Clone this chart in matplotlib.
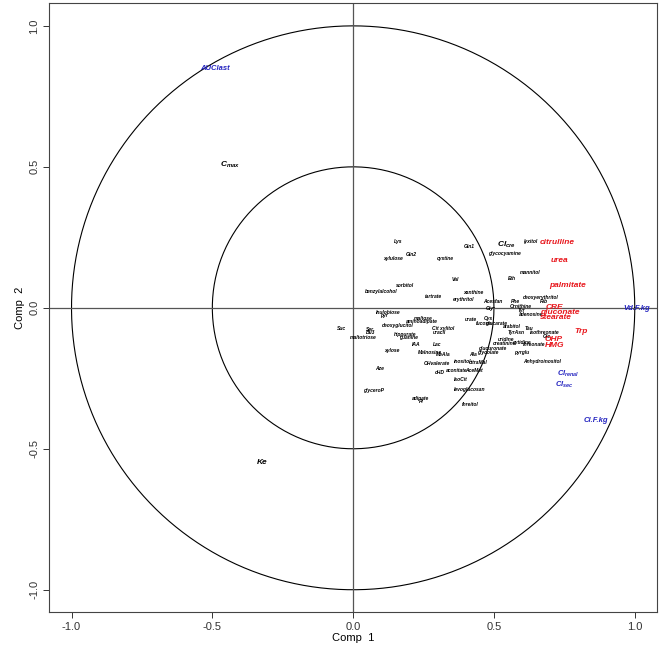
import matplotlib
matplotlib.use("Agg")
import matplotlib.pyplot as plt
import numpy as np

# correlation circle for PLS components 1 and 2

plt.rcParams['font.family'] = ['Liberation Sans', 'DejaVu Sans']
plt.rcParams['mathtext.fontset'] = 'custom'
plt.rcParams['mathtext.it'] = 'Liberation Sans:italic:bold'
plt.rcParams['mathtext.rm'] = 'Liberation Sans:bold'

# metabolites (small black labels)
metNames = ['Lys', 'xylulose', 'Gln2', 'cystine', 'Gln1', 'Val', 'sorbitol', 'benzylalcohol',
            'tartrate', 'xanthine', 'erythritol', 'Acesfan', 'Inulobiose', 'pyr', 'maltose',
            'aminoadipate', 'deoxyglucitol', 'Cit xylitol', 'uracil', 'urate', 'Cys', 'fucose',
            'glucarate', 'Suc', 'Ser', 'Bu3', 'maltotriose', 'hippurate', 'guanine', 'IAA', 'Lac',
            'xylose', 'MeInosine', 'MeAla', 'Ala', 'OHvalerate', 'inositol', 'citraMal', 'Aze',
            'cHD', 'aconitate', 'AceMet', 'IsoCit', 'levoglucosan', 'glyceroP', 'adipate', 'Pi',
            'threitol', 'glucuronate', 'glycolate', 'lyxitol', 'glycocyamine', 'mannitol', 'Eth',
            'deoxyerythritol', 'Rib', 'Phe', 'Ornithine', 'Gly', 'Tyr', 'adenosine', 'arabitol',
            'Tau', 'TyrAsn', 'isothreonate', 'Glc', 'uridine', 'cytidine', 'creatinine',
            'threonate', 'pyrglu', 'Anhydroinositol']
metX = [0.160, 0.142, 0.207, 0.327, 0.412, 0.363, 0.185, 0.098,
        0.286, 0.426, 0.393, 0.495, 0.124, 0.110, 0.248,
        0.245, 0.160, 0.319, 0.305, 0.417, 0.481, 0.464,
        0.509, -0.041, 0.059, 0.062, 0.036, 0.183, 0.195, 0.225, 0.298,
        0.136, 0.272, 0.320, 0.424, 0.298, 0.390, 0.444, 0.092,
        0.308, 0.367, 0.428, 0.381, 0.414, 0.073, 0.239, 0.243,
        0.417, 0.495, 0.479, 0.631, 0.536, 0.627, 0.565,
        0.665, 0.677, 0.575, 0.596, 0.485, 0.599, 0.633, 0.562,
        0.625, 0.580, 0.680, 0.686, 0.544, 0.600, 0.538,
        0.643, 0.598, 0.669]
metY = [0.236, 0.176, 0.190, 0.176, 0.218, 0.100, 0.080, 0.059,
        0.040, 0.056, 0.031, 0.024, -0.015, -0.027, -0.038,
        -0.050, -0.062, -0.072, -0.086, -0.042, -0.038, -0.054,
        -0.056, -0.075, -0.077, -0.088, -0.107, -0.095, -0.106, -0.130, -0.130,
        -0.153, -0.157, -0.166, -0.165, -0.198, -0.192, -0.195, -0.214,
        -0.228, -0.224, -0.222, -0.254, -0.290, -0.293, -0.322, -0.334,
        -0.342, -0.145, -0.157, 0.236, 0.191, 0.127, 0.104,
        0.037, 0.024, 0.021, 0.005, -0.004, -0.010, -0.023, -0.066,
        -0.074, -0.089, -0.089, -0.101, -0.113, -0.122, -0.127,
        -0.130, -0.159, -0.189]

# highlighted metabolites (red)
redNames = ['citrulline', 'urea', 'palmitate', 'CRE', 'gluconate', 'stearate', 'Trp', 'OHP', 'HMG']
redX = [0.724, 0.734, 0.763, 0.716, 0.734, 0.720, 0.811, 0.712, 0.716]
redY = [0.230, 0.167, 0.080, 0.001, -0.017, -0.036, -0.083, -0.113, -0.134]

# PK parameters (blue)
pkNames = ['AUClast', 'Vd.F.kg', r'$Cl_{renal}$', r'$Cl_{sec}$', 'Cl.F.kg']
pkX = [-0.491, 1.006, 0.763, 0.751, 0.862]
pkY = [0.849, -0.003, -0.236, -0.273, -0.401]

# other variables (black, larger)
othNames = [r'$C_{max}$', 'Ke', r'$Cl_{cre}$']
othX = [-0.438, -0.324, 0.545]
othY = [0.506, -0.550, 0.222]

ticks = [-1.0, -0.5, 0.0, 0.5, 1.0]

fig = plt.figure(figsize=(6.61, 6.50), dpi=100)
ax = fig.add_axes([0.0741, 0.058, 0.9203, 0.9369])

t = np.linspace(0, 2 * np.pi, 400)
ax.plot(np.cos(t), np.sin(t), color='black', lw=0.8)
ax.plot(0.5 * np.cos(t), 0.5 * np.sin(t), color='black', lw=0.8)
ax.axhline(0, color='#555555', lw=0.9)
ax.axvline(0, color='#555555', lw=0.9)

for n, x, y in zip(metNames, metX, metY):
    ax.text(x, y, n, fontsize=3.6, style='italic', weight='bold', ha='center', va='center')
for n, x, y in zip(redNames, redX, redY):
    ax.text(x, y, n, fontsize=6, style='italic', weight='bold', color='#e8161c', ha='center', va='center')
for n, x, y in zip(pkNames, pkX, pkY):
    ax.text(x, y, n, fontsize=5.5, style='italic', weight='bold', color='#2424c0', ha='center', va='center')
for n, x, y in zip(othNames, othX, othY):
    ax.text(x, y, n, fontsize=6, style='italic', weight='bold', color='black', ha='center', va='center')

ax.set_xlim(-1.08, 1.08)
ax.set_ylim(-1.08, 1.08)
ax.set_xticks(ticks)
ax.set_yticks(ticks)
ax.set_xticklabels(['%.1f' % v for v in ticks])
ax.set_yticklabels(['%.1f' % v for v in ticks], rotation=90, va='center')
ax.tick_params(labelsize=8, length=4, width=0.7, colors='#333333', pad=3)
for s in ax.spines.values():
    s.set_color('#444444')
    s.set_linewidth(0.8)
ax.set_xlabel('Comp  1', fontsize=8, labelpad=1)
ax.set_ylabel('Comp  2', fontsize=8, labelpad=3)

fig.savefig('out.png', dpi=100)
